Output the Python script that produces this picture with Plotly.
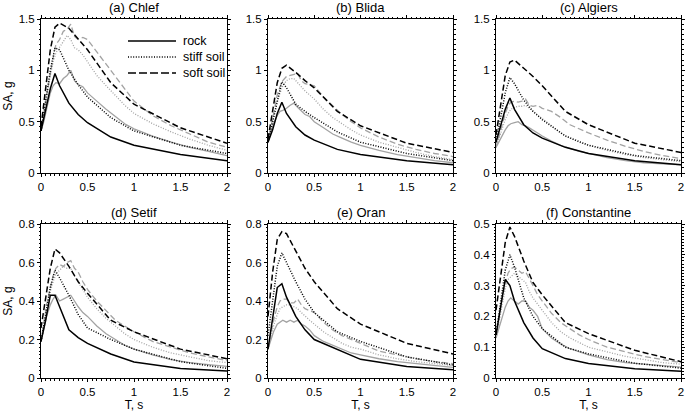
import plotly.graph_objects as go
from plotly.subplots import make_subplots

# periods of the code spectra (black) and the simulated spectra (grey)
T_code = [0, 0.05, 0.1, 0.15, 0.2, 0.3, 0.4, 0.5, 0.75, 1.0, 1.5, 2.0]
T_sim = [0, 0.03, 0.06, 0.1, 0.13, 0.16, 0.2, 0.24, 0.28, 0.32, 0.36, 0.4,
         0.45, 0.5, 0.6, 0.7, 0.8, 0.9, 1.0, 1.2, 1.4, 1.6, 1.8, 2.0]

sites = ["(a) Chlef", "(b) Blida", "(c) Algiers",
         "(d) Setif", "(e) Oran", "(f) Constantine"]
soil_names = ["rock", "stiff soil", "soft soil"]

# (a) Chlef
chlef_code_rock = [0.41, 0.6, 0.82, 0.97, 0.85, 0.68, 0.57, 0.49, 0.35, 0.27, 0.18, 0.12]
chlef_code_stiff = [0.41, 0.72, 1.0, 1.22, 1.2, 1.0, 0.86, 0.74, 0.54, 0.41, 0.27, 0.19]
chlef_code_soft = [0.45, 0.85, 1.2, 1.42, 1.46, 1.41, 1.3, 1.2, 0.88, 0.67, 0.44, 0.29]
chlef_sim_rock = [0.41, 0.5, 0.62, 0.78, 0.85, 0.88, 0.87, 0.92, 0.95, 1.0, 0.9, 0.86,
                  0.84, 0.78, 0.7, 0.62, 0.55, 0.48, 0.43, 0.36, 0.3, 0.25, 0.21, 0.17]
chlef_sim_stiff = [0.41, 0.55, 0.72, 0.95, 1.08, 1.17, 1.22, 1.28, 1.34, 1.3, 1.22, 1.2,
                   1.15, 1.08, 0.95, 0.85, 0.75, 0.66, 0.58, 0.48, 0.4, 0.33, 0.27, 0.22]
chlef_sim_soft = [0.41, 0.55, 0.75, 0.98, 1.12, 1.25, 1.3, 1.38, 1.4, 1.45, 1.33, 1.3,
                  1.32, 1.3, 1.18, 1.05, 0.94, 0.82, 0.7, 0.56, 0.46, 0.38, 0.3, 0.25]

# (b) Blida
blida_code_rock = [0.3, 0.42, 0.58, 0.69, 0.58, 0.45, 0.37, 0.32, 0.23, 0.18, 0.12, 0.08]
blida_code_stiff = [0.3, 0.5, 0.72, 0.89, 0.83, 0.67, 0.6, 0.54, 0.4, 0.3, 0.19, 0.12]
blida_code_soft = [0.33, 0.6, 0.88, 1.02, 1.05, 0.98, 0.9, 0.83, 0.6, 0.46, 0.29, 0.2]
blida_sim_rock = [0.3, 0.38, 0.48, 0.56, 0.6, 0.61, 0.63, 0.66, 0.68, 0.64, 0.6, 0.57,
                  0.55, 0.5, 0.44, 0.38, 0.34, 0.3, 0.27, 0.22, 0.18, 0.15, 0.12, 0.1]
blida_sim_stiff = [0.3, 0.42, 0.56, 0.7, 0.78, 0.85, 0.9, 0.92, 0.92, 0.88, 0.83, 0.8,
                   0.76, 0.72, 0.62, 0.54, 0.48, 0.42, 0.37, 0.3, 0.25, 0.2, 0.16, 0.13]
blida_sim_soft = [0.3, 0.45, 0.6, 0.76, 0.84, 0.9, 0.94, 0.95, 0.96, 0.97, 0.9, 0.87,
                  0.86, 0.85, 0.74, 0.65, 0.57, 0.5, 0.44, 0.35, 0.28, 0.23, 0.19, 0.16]

# (c) Algiers
algiers_code_rock = [0.3, 0.45, 0.62, 0.73, 0.62, 0.47, 0.39, 0.34, 0.25, 0.19, 0.12, 0.08]
algiers_code_stiff = [0.3, 0.55, 0.78, 0.93, 0.87, 0.71, 0.6, 0.52, 0.36, 0.27, 0.17, 0.12]
algiers_code_soft = [0.37, 0.65, 0.95, 1.08, 1.1, 1.02, 0.94, 0.85, 0.6, 0.47, 0.29, 0.2]
algiers_sim_rock = [0.25, 0.3, 0.36, 0.42, 0.46, 0.48, 0.49, 0.5, 0.47, 0.46, 0.44, 0.42,
                    0.39, 0.36, 0.31, 0.27, 0.24, 0.21, 0.19, 0.15, 0.12, 0.1, 0.09, 0.08]
algiers_sim_stiff = [0.25, 0.33, 0.42, 0.52, 0.58, 0.62, 0.64, 0.65, 0.65, 0.66, 0.63, 0.6,
                     0.57, 0.53, 0.46, 0.39, 0.34, 0.3, 0.27, 0.22, 0.18, 0.15, 0.13, 0.11]
algiers_sim_soft = [0.25, 0.35, 0.45, 0.58, 0.65, 0.69, 0.7, 0.69, 0.7, 0.72, 0.66, 0.65,
                    0.66, 0.63, 0.6, 0.54, 0.47, 0.43, 0.39, 0.32, 0.26, 0.21, 0.17, 0.14]

# (d) Setif
setif_code_rock = [0.19, 0.3, 0.43, 0.43, 0.37, 0.25, 0.21, 0.18, 0.125, 0.083, 0.05, 0.036]
setif_code_stiff = [0.19, 0.33, 0.47, 0.56, 0.52, 0.43, 0.33, 0.26, 0.2, 0.15, 0.085, 0.05]
setif_code_soft = [0.26, 0.42, 0.57, 0.67, 0.65, 0.58, 0.5, 0.44, 0.3, 0.24, 0.15, 0.1]
setif_sim_rock = [0.19, 0.25, 0.32, 0.38, 0.41, 0.43, 0.4, 0.41, 0.42, 0.43, 0.4, 0.37,
                  0.34, 0.32, 0.27, 0.23, 0.2, 0.17, 0.15, 0.12, 0.095, 0.08, 0.07, 0.06]
setif_sim_stiff = [0.19, 0.27, 0.36, 0.45, 0.5, 0.54, 0.56, 0.58, 0.57, 0.57, 0.53, 0.5,
                   0.46, 0.42, 0.36, 0.31, 0.27, 0.23, 0.2, 0.16, 0.13, 0.11, 0.09, 0.08]
setif_sim_soft = [0.19, 0.28, 0.38, 0.47, 0.53, 0.57, 0.59, 0.58, 0.6, 0.61, 0.57, 0.55,
                  0.5, 0.46, 0.4, 0.35, 0.3, 0.27, 0.24, 0.19, 0.16, 0.13, 0.11, 0.09]

# (e) Oran
oran_code_rock = [0.15, 0.3, 0.47, 0.49, 0.42, 0.32, 0.25, 0.2, 0.15, 0.097, 0.06, 0.043]
oran_code_stiff = [0.22, 0.4, 0.58, 0.65, 0.6, 0.5, 0.41, 0.34, 0.24, 0.19, 0.11, 0.068]
oran_code_soft = [0.32, 0.55, 0.72, 0.76, 0.75, 0.66, 0.57, 0.5, 0.36, 0.28, 0.18, 0.125]
oran_sim_rock = [0.15, 0.19, 0.24, 0.28, 0.29, 0.3, 0.29, 0.3, 0.29, 0.3, 0.28, 0.27,
                 0.25, 0.22, 0.19, 0.17, 0.15, 0.13, 0.12, 0.1, 0.085, 0.075, 0.065, 0.055]
oran_sim_stiff = [0.15, 0.21, 0.27, 0.33, 0.36, 0.37, 0.38, 0.38, 0.37, 0.36, 0.34, 0.32,
                  0.3, 0.28, 0.24, 0.21, 0.18, 0.16, 0.15, 0.12, 0.1, 0.085, 0.075, 0.065]
oran_sim_soft = [0.15, 0.22, 0.3, 0.37, 0.4, 0.41, 0.41, 0.39, 0.39, 0.41, 0.38, 0.36,
                 0.35, 0.34, 0.29, 0.25, 0.22, 0.2, 0.18, 0.14, 0.12, 0.1, 0.085, 0.075]

# (f) Constantine
const_code_rock = [0.14, 0.23, 0.32, 0.3, 0.25, 0.18, 0.13, 0.095, 0.063, 0.047, 0.03, 0.022]
const_code_stiff = [0.14, 0.25, 0.35, 0.4, 0.36, 0.26, 0.2, 0.16, 0.1, 0.078, 0.048, 0.032]
const_code_soft = [0.22, 0.33, 0.44, 0.49, 0.46, 0.38, 0.31, 0.27, 0.18, 0.144, 0.09, 0.053]
const_sim_rock = [0.13, 0.16, 0.19, 0.23, 0.25, 0.26, 0.25, 0.24, 0.25, 0.25, 0.23, 0.22,
                  0.2, 0.16, 0.13, 0.11, 0.095, 0.085, 0.075, 0.06, 0.05, 0.045, 0.04, 0.035]
const_sim_stiff = [0.13, 0.18, 0.23, 0.29, 0.32, 0.33, 0.34, 0.33, 0.32, 0.31, 0.28, 0.26,
                   0.24, 0.22, 0.18, 0.15, 0.13, 0.115, 0.1, 0.085, 0.07, 0.06, 0.05, 0.045]
const_sim_soft = [0.13, 0.19, 0.25, 0.31, 0.34, 0.355, 0.36, 0.35, 0.34, 0.345, 0.32, 0.3,
                  0.27, 0.25, 0.21, 0.18, 0.16, 0.14, 0.125, 0.1, 0.085, 0.07, 0.06, 0.05]

code = [
    [chlef_code_rock, chlef_code_stiff, chlef_code_soft],
    [blida_code_rock, blida_code_stiff, blida_code_soft],
    [algiers_code_rock, algiers_code_stiff, algiers_code_soft],
    [setif_code_rock, setif_code_stiff, setif_code_soft],
    [oran_code_rock, oran_code_stiff, oran_code_soft],
    [const_code_rock, const_code_stiff, const_code_soft],
]
sim = [
    [chlef_sim_rock, chlef_sim_stiff, chlef_sim_soft],
    [blida_sim_rock, blida_sim_stiff, blida_sim_soft],
    [algiers_sim_rock, algiers_sim_stiff, algiers_sim_soft],
    [setif_sim_rock, setif_sim_stiff, setif_sim_soft],
    [oran_sim_rock, oran_sim_stiff, oran_sim_soft],
    [const_sim_rock, const_sim_stiff, const_sim_soft],
]

y_max = [1.5, 1.5, 1.5, 0.8, 0.8, 0.5]
y_dtick = [0.5, 0.5, 0.5, 0.2, 0.2, 0.1]
y_minor = [0.05, 0.05, 0.05, 0.02, 0.02, 0.01]

dashes = ["solid", "1px,1.6px", "6px,3px"]
grey = "#a3a3a3"
W, H = 685, 412
x_px = [(41, 227), (268, 453), (496, 681)]
y_px = [(19, 173), (224, 378)]

fig = make_subplots(rows=2, cols=3)
font = "Liberation Sans, Arial, sans-serif"

for i in range(6):
    r, c = i // 3 + 1, i % 3 + 1
    for k in range(3):
        fig.add_trace(go.Scatter(x=T_sim, y=sim[i][k], mode="lines",
                                 line=dict(color=grey, width=1.3, dash=dashes[k]),
                                 showlegend=False, hoverinfo="skip"), row=r, col=c)
    for k in range(3):
        fig.add_trace(go.Scatter(x=T_code, y=code[i][k], mode="lines", name=soil_names[k],
                                 line=dict(color="black", width=1.5, dash=dashes[k]),
                                 showlegend=False), row=r, col=c)

    x0, x1 = x_px[c - 1]
    y0, y1 = y_px[r - 1]
    axis = dict(showline=True, linecolor="black", linewidth=1, mirror="ticks",
                ticks="outside", ticklen=3, tickcolor="black", showgrid=False,
                zeroline=False, automargin=False,
                tickfont=dict(size=11.5, color="black"))
    fig.update_xaxes(axis, range=[0, 2], dtick=0.5, domain=[x0 / W, x1 / W],
                     minor=dict(dtick=0.05, ticks="outside", ticklen=1.5, tickcolor="black"),
                     title=dict(text="T, s" if r == 2 else "", font=dict(size=12),
                                standoff=0),
                     row=r, col=c)
    fig.update_yaxes(axis, range=[0, y_max[i]], dtick=y_dtick[i],
                     domain=[1 - y1 / H, 1 - y0 / H],
                     minor=dict(dtick=y_minor[i], ticks="outside", ticklen=1.5,
                                tickcolor="black"),
                     title=dict(text="SA, g" if c == 1 else "", font=dict(size=12),
                                standoff=3),
                     row=r, col=c)
    fig.add_annotation(text=sites[i], x=(x0 + x1) / 2 / W, y=1 - (y0 - 2) / H,
                       xref="paper", yref="paper", xanchor="center", yanchor="bottom",
                       showarrow=False, font=dict(size=13, color="black"))

# legend drawn by hand inside panel (a): short line samples with labels
leg_y = [41, 57, 73]
for k in range(3):
    fig.add_shape(type="line", xref="paper", yref="paper",
                  x0=128 / W, x1=176 / W, y0=1 - leg_y[k] / H, y1=1 - leg_y[k] / H,
                  line=dict(color="black", width=1.5,
                            dash=["solid", "1px,1.6px", "8px,3px"][k]))
    fig.add_annotation(text=soil_names[k], x=181 / W, y=1 - leg_y[k] / H,
                       xref="paper", yref="paper", xanchor="left", yanchor="middle",
                       showarrow=False, font=dict(size=12.5, color="black"))

fig.update_layout(
    width=W, height=H,
    margin=dict(l=0, r=0, t=0, b=0),
    plot_bgcolor="white", paper_bgcolor="white",
    font=dict(family=font, size=11.5, color="black"),
    showlegend=False,
)

# the page body has a default 8px margin; drop it so the figure fills the window
fig.write_html("out.html", config={"displayModeBar": False},
               post_script="document.body.style.margin = '0';")
